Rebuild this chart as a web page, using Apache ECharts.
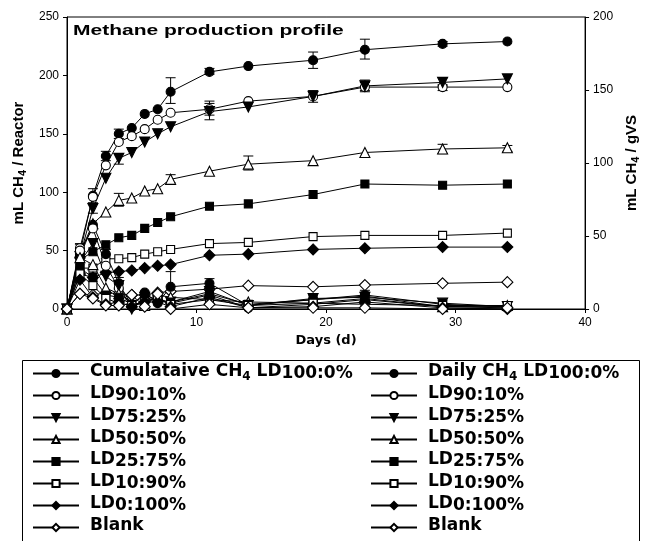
<!DOCTYPE html>
<html>
<head>
<meta charset="utf-8">
<script src="https://cdn.jsdelivr.net/npm/echarts@6/dist/echarts.min.js"></script>
<style>html,body{margin:0;padding:0;background:#fff}#c{width:649px;height:541px}</style>
</head>
<body>
<div id="c"></div>
<script>
// ---- data ----
var days = [0, 1, 2, 3, 4, 5, 6, 7, 8, 11, 14, 19, 23, 29, 34];

var cumLD100 = [0, 48, 97, 131, 150, 155, 167, 171, 186, 203, 208, 213, 222, 227, 229];
var cumLD90  = [0, 52, 96, 123, 143, 148, 154, 162, 168, 171, 178, 182, 190, 190, 190];
var cumLD75  = [0, 45, 86, 112, 129, 134, 143, 150, 156, 169, 173, 182, 191, 194, 197];
var cumLD50  = [0, 48, 73, 83, 93, 95, 101, 103, 111, 118, 124, 127, 134, 137, 138];
var cumLD25  = [0, 42, 49, 55, 61, 63, 69, 74, 79, 88, 90, 98, 107, 106, 107];
var cumLD10  = [0, 35, 35, 43, 43, 44, 47, 49, 51, 56, 57, 62, 63, 63, 65];
var cumLD0   = [0, 30, 27, 31, 32, 33, 35, 37, 38, 46, 47, 51, 52, 53, 53];
var cumBlank = [0, 13, 12, 14, 13, 12, 12, 14, 15, 17, 20, 19, 20.5, 22, 23];

var dLD100  = [0, 45, 72, 47, 22, 3, 14, 5, 19, 22, 3, 8, 12, 4, 2];
var dLD90   = [0, 50, 69, 37, 18, 2, 8, 8, 5, 12, 1, 4, 8, 2, 1];
var dLD75   = [0, 40, 56, 28, 20, 0, 10, 7, 6, 15, 3, 9, 10, 5, 2];
var dLD50   = [0, 44, 38, 18, 13, 6, 3, 12, 10, 8, 6, 5, 9, 2, 3];
var dLD25   = [0, 35, 27, 12, 10, 4, 12, 8, 6, 13, 4, 8, 11, 2, 2];
var dLD10   = [0, 30, 20, 9, 5, 3, 6, 10, 4, 8, 3, 5, 4, 3, 3];
var dLD0    = [0, 25, 10, 4, 6, 2, 6, 6, 2, 10, 1, 2, 6, 1, 0];
var dBlank  = [0, 13, 9, 3, 3, 12, 2, 13, 0, 4, 1, 1, 1, 0, 1];

// error bars: [day, low, high]
var errCumLD100 = [[1,45,55],[2,91,103],[3,127,135],[4,146,154],[8,176,198],[11,201,206],[19,206,220],[23,214,231],[29,225,229]];
var errCumLD90  = [[1,47,56],[11,166,178],[23,186,194],[29,187,192]];
var errCumLD75  = [[2,82,90],[4,124,133],[11,162,176],[19,177,187],[23,187,196],[29,191,198]];
var errCumLD50  = [[4,88,99],[8,108,115],[14,119,131],[29,133,141],[34,135,140]];
var errDaily    = [[8,5,32],[11,16,26],[4,17,27],[3,43,51],[23,8,16],[29,1,7]];

var xTicks = [0, 10, 20, 30, 40];
var yLeftTicks = [0, 50, 100, 150, 200, 250];
var yRightTicks = [0, 50, 100, 150, 200];

var titleText = 'Methane production profile';
var xName = 'Days (d)';
var yLeftName = '{n|mL CH}{t|4}{n| / Reactor}';
var yRightName = '{n|mL CH}{t|4}{n| / gVS}';

var leftLegend = ['{n|Cumulataive CH}{t|4}{n| LD}{s|100:0%}', '{n|LD}{s|90:10%}', '{n|LD}{s|75:25%}', '{n|LD}{s|50:50%}',
                  '{n|LD}{s|25:75%}', '{n|LD}{s|10:90%}', '{n|LD}{s|0:100%}', '{n|Blank}{s| }'];
var rightLegend = ['{n|Daily CH}{t|4}{n| LD}{s|100:0%}', '{n|LD}{s|90:10%}', '{n|LD}{s|75:25%}', '{n|LD}{s|50:50%}',
                   '{n|LD}{s|25:75%}', '{n|LD}{s|10:90%}', '{n|LD}{s|0:100%}', '{n|Blank}{s| }'];

var symbols = [
  {s: 'circle', size: 9, rot: 0, fill: '#000'},
  {s: 'circle', size: 9, rot: 0, fill: '#fff'},
  {s: 'triangle', size: 10, rot: 180, fill: '#000'},
  {s: 'triangle', size: 10, rot: 0, fill: '#fff'},
  {s: 'rect', size: 8, rot: 0, fill: '#000'},
  {s: 'rect', size: 8, rot: 0, fill: '#fff'},
  {s: 'diamond', size: 11, rot: 0, fill: '#000'},
  {s: 'diamond', size: 11, rot: 0, fill: '#fff'}
];

var cumData = [cumLD100, cumLD90, cumLD75, cumLD50, cumLD25, cumLD10, cumLD0, cumBlank];
var dailyData = [dLD100, dLD90, dLD75, dLD50, dLD25, dLD10, dLD0, dBlank];

function pairs(vals) { return days.map(function (d, i) { return [d, vals[i]]; }); }

function errRender(params, api) {
  var x = api.value(0), lo = api.value(1), hi = api.value(2);
  var p1 = api.coord([x, hi]), p2 = api.coord([x, lo]);
  var w = 5;
  var st = {stroke: '#000', lineWidth: 1};
  return {type: 'group', children: [
    {type: 'line', shape: {x1: p1[0], y1: p1[1], x2: p2[0], y2: p2[1]}, style: st},
    {type: 'line', shape: {x1: p1[0] - w, y1: p1[1], x2: p1[0] + w, y2: p1[1]}, style: st},
    {type: 'line', shape: {x1: p2[0] - w, y1: p2[1], x2: p2[0] + w, y2: p2[1]}, style: st}
  ]};
}

var series = [];
[errCumLD100, errCumLD90, errCumLD75, errCumLD50, errDaily].forEach(function (e, k) {
  series.push({type: 'custom', name: 'err' + k, renderItem: errRender, data: e,
    encode: {x: 0, y: [1, 2]}, z: 3, silent: true});
});
function lineSeries(nm, vals, i) {
  return {type: 'line', name: nm, data: pairs(vals), symbol: symbols[i].s, symbolSize: symbols[i].size,
    symbolRotate: symbols[i].rot, showAllSymbol: true, z: 4,
    lineStyle: {color: '#000', width: 1},
    itemStyle: {color: symbols[i].fill, borderColor: '#000', borderWidth: 1.1}};
}
var cumNames = [], dayNames = [];
cumData.forEach(function (vals, i) { var nm = 'c' + i; cumNames.push(nm); series.push(lineSeries(nm, vals, i)); });
dailyData.forEach(function (vals, i) { var nm = 'd' + i; dayNames.push(nm); series.push(lineSeries(nm, vals, i)); });

var FF = 'DejaVu Sans';
var legRich = {
  n: {fontFamily: FF, fontWeight: 'bold', fontSize: 17, lineHeight: 18, padding: [0, 0, 2.5, 0], verticalAlign: 'bottom', color: '#000'},
  s: {fontFamily: FF, fontWeight: 'bold', fontSize: 17, lineHeight: 18, verticalAlign: 'bottom', color: '#000'},
  t: {fontFamily: FF, fontWeight: 'bold', fontSize: 12, lineHeight: 14, verticalAlign: 'bottom', color: '#000'}
};

function legendCfg(names, labels, left) {
  return {
    data: names, orient: 'vertical', left: left, top: 363, padding: 0,
    itemWidth: 46, itemHeight: 9, itemGap: 2.5, selectedMode: false,
    formatter: function (nm) { return labels[names.indexOf(nm)]; },
    textStyle: {rich: legRich, padding: [0, 0, 0, 6]}
  };
}

var axisNameRich = {
  n: {fontFamily: 'Liberation Sans', fontWeight: 'bold', fontSize: 15, color: '#000'},
  t: {fontFamily: 'Liberation Sans', fontWeight: 'bold', fontSize: 11, color: '#000', padding: [8, 0, 0, 0]}
};

var option = {
  animation: false,
  backgroundColor: '#fff',
  grid: {left: 67, right: 59, top: 17, bottom: 232, show: true, borderColor: '#000', borderWidth: 1},
  xAxis: {
    type: 'value', min: xTicks[0], max: xTicks[xTicks.length - 1], interval: 10,
    name: xName, nameLocation: 'middle', nameGap: 23,
    nameTextStyle: {fontFamily: FF, fontWeight: 'bold', fontSize: 13, color: '#000'},
    axisLine: {lineStyle: {color: '#000', width: 1}},
    axisTick: {inside: false, length: 4, lineStyle: {color: '#000'}},
    axisLabel: {color: '#000', fontFamily: 'Liberation Sans', fontSize: 12, margin: 8},
    splitLine: {show: false}
  },
  yAxis: [{
    type: 'value', min: yLeftTicks[0], max: yLeftTicks[yLeftTicks.length - 1], interval: 50, position: 'left',
    name: yLeftName, nameLocation: 'middle', nameGap: 36, nameRotate: 90,
    nameTextStyle: {rich: axisNameRich},
    axisLine: {show: true, lineStyle: {color: '#000', width: 1}},
    axisTick: {show: true, inside: false, length: 4, lineStyle: {color: '#000'}},
    axisLabel: {color: '#000', fontFamily: 'Liberation Sans', fontSize: 12, margin: 8},
    splitLine: {show: false}
  }, {
    type: 'value', min: yRightTicks[0], max: yRightTicks[yRightTicks.length - 1], interval: 50, position: 'right',
    name: yRightName, nameLocation: 'middle', nameGap: 36, nameRotate: 90,
    nameTextStyle: {rich: axisNameRich},
    axisLine: {show: true, lineStyle: {color: '#000', width: 1}},
    axisTick: {show: true, inside: false, length: 4, lineStyle: {color: '#000'}},
    axisLabel: {color: '#000', fontFamily: 'Liberation Sans', fontSize: 12, margin: 8},
    splitLine: {show: false}
  }],
  legend: [legendCfg(cumNames, leftLegend, 32), legendCfg(dayNames, rightLegend, 370)],
  graphic: [
    {type: 'text', x: 73, y: 31, scaleX: 1.5, z: 10,
     style: {text: titleText, fontFamily: 'Liberation Sans', fontWeight: 'bold', fontSize: 14, fill: '#000', verticalAlign: 'middle'}},
    {type: 'rect', left: 20, top: 358, z: 0, shape: {width: 617, height: 200},
     style: {fill: 'none', stroke: '#000', lineWidth: 1}}
  ],
  series: series
};

var chart = echarts.init(document.getElementById('c'), null, {renderer: 'canvas'});
chart.setOption(option);
</script>
</body>
</html>
